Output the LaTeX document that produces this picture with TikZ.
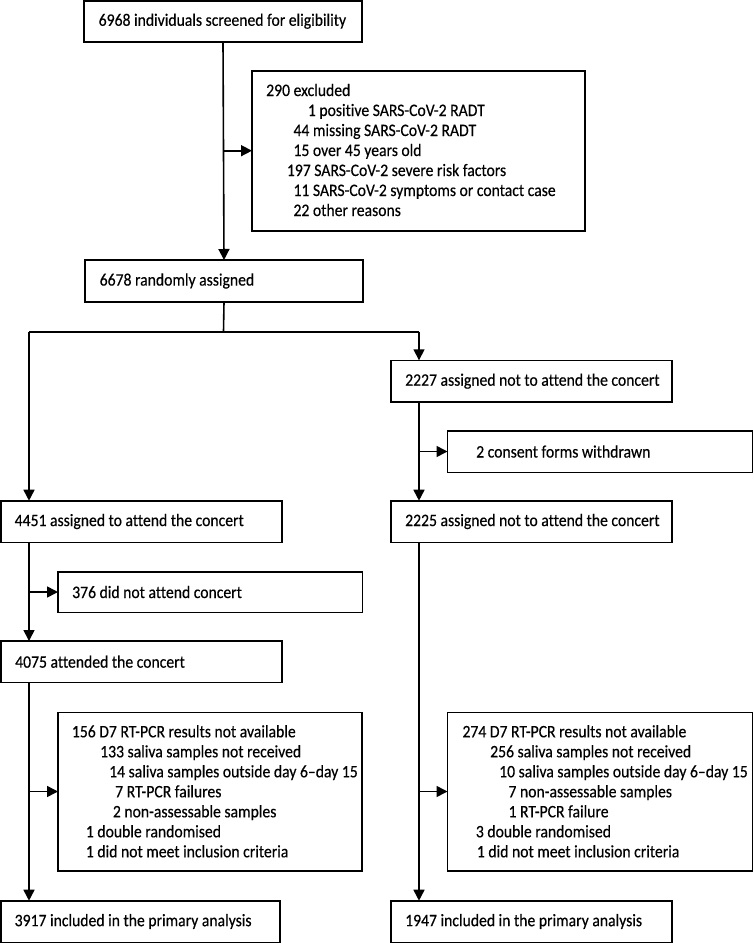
\documentclass[tikz,border=0pt]{standalone}
\usepackage{fontspec}
\setmainfont{Carlito}[FakeStretch=0.896, FakeBold=0.4, Ligatures={NoCommon}]
\usetikzlibrary{arrows.meta}
\tikzset{
  box/.style={draw=black, line width=1.6pt, rectangle, anchor=north west, inner sep=0pt, outer sep=0pt},
  ln/.style={anchor=base west, inner sep=0pt, font=\fontsize{17.5}{20}\selectfont},
  tx/.style={anchor=west, inner sep=0pt, font=\fontsize{17.5}{20}\selectfont},
  conn/.style={line width=1.6pt},
  arr/.style={line width=1.6pt, -{Triangle[length=11pt,width=11pt]}},
}
\begin{document}
\begin{tikzpicture}[x=1pt,y=-1pt]
\useasboundingbox (0,0) rectangle (754,943);
% boxes
\node[box, minimum width=278pt, minimum height=41pt] (b1) at (84,0.7) {};
\node[box, minimum width=333pt, minimum height=160pt] (excl) at (252,70.7) {};
\node[box, minimum width=278pt, minimum height=42pt] (b2) at (85,260) {};
\node[box, minimum width=281pt, minimum height=41.7pt] (c2227) at (391,360.3) {};
\node[box, minimum width=305pt, minimum height=41.6pt] (cons) at (447.5,430.7) {};
\node[box, minimum width=281pt, minimum height=41.6pt] (a4451) at (1,500.7) {};
\node[box, minimum width=281pt, minimum height=41.6pt] (c2225) at (391,500.7) {};
\node[box, minimum width=304.5pt, minimum height=40.6pt] (n376) at (58,571.7) {};
\node[box, minimum width=281pt, minimum height=41.3pt] (a4075) at (1,641) {};
\node[box, minimum width=304pt, minimum height=158.4pt] (f156) at (58,712.3) {};
\node[box, minimum width=305pt, minimum height=158.4pt] (f274) at (447.5,712.3) {};
\node[box, minimum width=279pt, minimum height=41.6pt] (r3917) at (1,900.7) {};
\node[box, minimum width=281pt, minimum height=41.6pt] (r1947) at (391,900.7) {};
% single-line texts
\node[tx] (t1) at ([xshift=14.5pt]b1.west) {6968 individuals screened for eligibility};
\node[tx] (t2) at ([xshift=14.5pt]b2.west) {6678 randomly assigned};
\node[tx] (t3) at ([xshift=14pt]c2227.west) {2227 assigned not to attend the concert};
\node[tx] (t4) at ([xshift=28.5pt]cons.west) {2 consent forms withdrawn};
\node[tx] (t5) at ([xshift=13.5pt]a4451.west) {4451 assigned to attend the concert};
\node[tx] (t6) at ([xshift=14pt]c2225.west) {2225 assigned not to attend the concert};
\node[tx] (t7) at ([xshift=14pt]n376.west) {376 did not attend concert};
\node[tx] (t8) at ([xshift=14pt]a4075.west) {4075 attended the concert};
\node[tx] (t9) at ([xshift=13.5pt]r3917.west) {3917 included in the primary analysis};
\node[tx] (t10) at ([xshift=14pt]r1947.west) {1947 included in the primary analysis};
% excluded lines
\node[ln] (e1) at (266,96) {290 excluded};
\node[ln] (e2) at (307.7,116) {1 positive SARS-CoV-2 RADT};
\node[ln] (e3) at (293.3,136) {44 missing SARS-CoV-2 RADT};
\node[ln] (e4) at (293.3,156) {15 over 45 years old};
\node[ln] (e5) at (286.7,176) {197 SARS-CoV-2 severe risk factors};
\node[ln] (e6) at (293.3,196) {11 SARS-CoV-2 symptoms or contact case};
\node[ln] (e7) at (293.3,216) {22 other reasons};
% 156 lines
\node[ln] (l1) at (71.7,737.3) {156 D7 RT-PCR results not available};
\node[ln] (l2) at (100,757.3) {133 saliva samples not received};
\node[ln] (l3) at (109,777.3) {14 saliva samples outside day 6--day 15};
\node[ln] (l4) at (115,797.3) {7 RT-PCR failures};
\node[ln] (l5) at (112.7,817.3) {2 non-assessable samples};
\node[ln] (l6) at (85.7,837.3) {1 double randomised};
\node[ln] (l7) at (85.7,857.3) {1 did not meet inclusion criteria};
% 274 lines
\node[ln] (r1) at (462.3,737.3) {274 D7 RT-PCR results not available};
\node[ln] (r2) at (490,757.3) {256 saliva samples not received};
\node[ln] (r3) at (499,777.3) {10 saliva samples outside day 6--day 15};
\node[ln] (r4) at (508.3,797.3) {7 non-assessable samples};
\node[ln] (r5) at (508.3,817.3) {1 RT-PCR failure};
\node[ln] (r6) at (475.7,837.3) {3 double randomised};
\node[ln] (r7) at (476.7,857.3) {1 did not meet inclusion criteria};
% connectors
\coordinate (split) at (223.5,331.7);
\coordinate (L) at (29,331.7);
\coordinate (R) at (419,331.7);
\draw[arr] (b1.south) -- (b2.north);
\draw[arr] (b1.south |- excl.west) -- (excl.west);
\draw[conn] (b2.south) -- (split);
\draw[conn] (L) -- (R);
\draw[arr] (L) -- (L |- a4451.north);
\draw[arr] (R) -- (R |- c2227.north);
\draw[arr] (R |- c2227.south) -- (R |- c2225.north);
\draw[arr] (R |- cons.west) -- (cons.west);
\draw[arr] (R |- c2225.south) -- (R |- r1947.north);
\draw[arr] (R |- f274.west) -- (f274.west);
\draw[arr] (L |- a4451.south) -- (L |- a4075.north);
\draw[arr] (L |- n376.west) -- (n376.west);
\draw[arr] (L |- a4075.south) -- (L |- r3917.north);
\draw[arr] (L |- f156.west) -- (f156.west);
\end{tikzpicture}
\end{document}
